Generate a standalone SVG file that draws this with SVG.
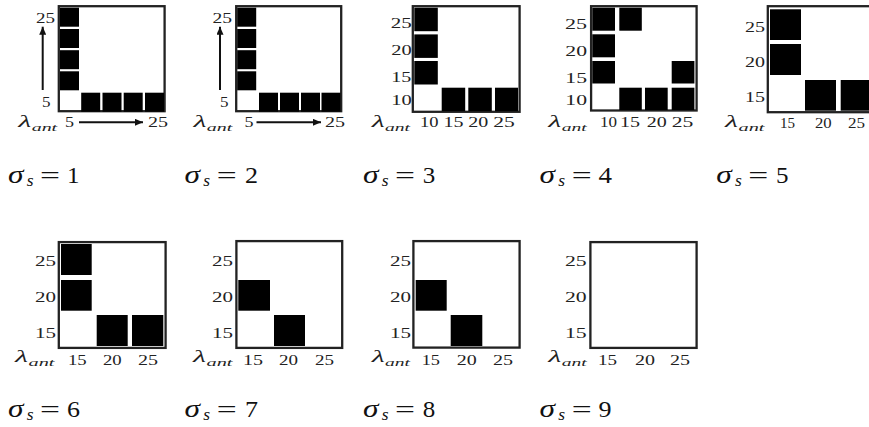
<svg xmlns="http://www.w3.org/2000/svg" width="869" height="427" viewBox="0 0 869 427">
  <defs>
    <style>
      .frame { fill: #ffffff; stroke: #222222; stroke-width: 2.3; }
      .cell { fill: #000000; }
      .tick { font-family: "Liberation Serif", serif; font-size: 15px; fill: #222222; }
      .lam { font-family: "Liberation Serif", serif; font-style: italic; font-size: 16px; fill: #222222; }
      .sub { font-family: "Liberation Serif", serif; font-style: italic; font-size: 11px; fill: #222222; }
      .sig { font-family: "Liberation Serif", serif; font-style: italic; font-size: 26px; fill: #111111; }
      .sigsub { font-family: "Liberation Serif", serif; font-style: italic; font-size: 16px; fill: #111111; }
      .eq { font-family: "Liberation Serif", serif; font-size: 23px; fill: #111111; }
      .axis { stroke: #111111; stroke-width: 2; fill: none; marker-end: url(#head); }
    </style>
    <marker id="head" markerUnits="userSpaceOnUse" markerWidth="8" markerHeight="7" refX="8" refY="3.5" orient="auto">
      <path d="M0,0 L8,3.5 L0,7 z" fill="#111111"/>
    </marker>
  </defs>

  <rect width="869" height="427" fill="#ffffff"/>

  <!-- sigma_s = 1 : 5x5 grid -->
  <g id="panel-s1">
    <rect class="frame" x="58.8" y="6.2" width="105.8" height="105"/>
    <rect class="cell" x="60" y="7.7" width="19" height="19"/>
    <rect class="cell" x="60" y="29" width="19" height="19"/>
    <rect class="cell" x="60" y="50.2" width="19" height="19"/>
    <rect class="cell" x="60" y="71.3" width="19" height="19"/>
    <rect class="cell" x="81.2" y="92.7" width="19" height="19"/>
    <rect class="cell" x="102.5" y="92.7" width="19" height="19"/>
    <rect class="cell" x="123.7" y="92.7" width="19" height="19"/>
    <rect class="cell" x="145" y="92.7" width="19" height="19"/>
    <text class="tick" x="36" y="23" textLength="19" lengthAdjust="spacingAndGlyphs">25</text>
    <text class="tick" x="42" y="107" textLength="8.5" lengthAdjust="spacingAndGlyphs">5</text>
    <text class="lam" x="18.3" y="127" textLength="13" lengthAdjust="spacingAndGlyphs">λ</text>
    <text class="sub" x="31.7" y="130.5" textLength="25.5" lengthAdjust="spacingAndGlyphs">ant</text>
    <text class="tick" x="65" y="126.7" textLength="9" lengthAdjust="spacingAndGlyphs">5</text>
    <text class="tick" x="148" y="126.7" textLength="20" lengthAdjust="spacingAndGlyphs">25</text>
  </g>

  <!-- sigma_s = 2 : same pattern as sigma_s = 1 -->
  <g id="panel-s2">
    <rect class="frame" x="236.2" y="6.2" width="105" height="105"/>
    <rect class="cell" x="237.2" y="7.7" width="19" height="19"/>
    <rect class="cell" x="237.2" y="29" width="19" height="19"/>
    <rect class="cell" x="237.2" y="50.2" width="19" height="19"/>
    <rect class="cell" x="237.2" y="71.3" width="19" height="19"/>
    <rect class="cell" x="259" y="92.7" width="19" height="19"/>
    <rect class="cell" x="280" y="92.7" width="19" height="19"/>
    <rect class="cell" x="301" y="92.7" width="19" height="19"/>
    <rect class="cell" x="321.5" y="92.7" width="19" height="19"/>
    <text class="tick" x="212.5" y="23" textLength="19.5" lengthAdjust="spacingAndGlyphs">25</text>
    <text class="tick" x="220" y="107" textLength="8.5" lengthAdjust="spacingAndGlyphs">5</text>
    <text class="lam" x="193.5" y="127" textLength="13" lengthAdjust="spacingAndGlyphs">λ</text>
    <text class="sub" x="206.8" y="130.5" textLength="25.5" lengthAdjust="spacingAndGlyphs">ant</text>
    <text class="tick" x="244.5" y="126.7" textLength="9" lengthAdjust="spacingAndGlyphs">5</text>
    <text class="tick" x="325" y="126.7" textLength="20" lengthAdjust="spacingAndGlyphs">25</text>
  </g>

  <!-- sigma_s = 3 : 4x4 grid -->
  <g id="panel-s3">
    <rect class="frame" x="412.8" y="6.2" width="106.8" height="105.6"/>
    <rect class="cell" x="414.3" y="7.7" width="23.5" height="23.5"/>
    <rect class="cell" x="414.3" y="34.4" width="23.5" height="23.5"/>
    <rect class="cell" x="414.3" y="61" width="23.5" height="23.5"/>
    <rect class="cell" x="441.7" y="87.7" width="23.5" height="23.5"/>
    <rect class="cell" x="468.3" y="87.7" width="23.5" height="23.5"/>
    <rect class="cell" x="495" y="87.7" width="23" height="23.5"/>
    <text class="tick" x="390.7" y="28.3" textLength="21" lengthAdjust="spacingAndGlyphs">25</text>
    <text class="tick" x="391.2" y="55" textLength="20.5" lengthAdjust="spacingAndGlyphs">20</text>
    <text class="tick" x="391.2" y="81.7" textLength="20" lengthAdjust="spacingAndGlyphs">15</text>
    <text class="tick" x="391.2" y="105" textLength="20.5" lengthAdjust="spacingAndGlyphs">10</text>
    <text class="lam" x="371.7" y="127" textLength="13" lengthAdjust="spacingAndGlyphs">λ</text>
    <text class="sub" x="385" y="130.5" textLength="25" lengthAdjust="spacingAndGlyphs">ant</text>
    <text class="tick" x="420" y="127" textLength="18.5" lengthAdjust="spacingAndGlyphs">10</text>
    <text class="tick" x="443.5" y="127" textLength="20" lengthAdjust="spacingAndGlyphs">15</text>
    <text class="tick" x="468.3" y="127" textLength="20" lengthAdjust="spacingAndGlyphs">20</text>
    <text class="tick" x="493.3" y="127" textLength="21.5" lengthAdjust="spacingAndGlyphs">25</text>
  </g>

  <!-- sigma_s = 4 : 4x4 grid -->
  <g id="panel-s4">
    <rect class="frame" x="591.1" y="6.2" width="105.5" height="104.3"/>
    <rect class="cell" x="592.3" y="7.7" width="22.7" height="23"/>
    <rect class="cell" x="619.3" y="7.7" width="22.5" height="23"/>
    <rect class="cell" x="592.3" y="34.3" width="22.7" height="23"/>
    <rect class="cell" x="592.3" y="61" width="22.7" height="22.5"/>
    <rect class="cell" x="671.7" y="61" width="22.7" height="22.5"/>
    <rect class="cell" x="619.3" y="87.7" width="22.5" height="22.4"/>
    <rect class="cell" x="645" y="87.7" width="22.7" height="22.4"/>
    <rect class="cell" x="671.7" y="87.7" width="22.7" height="22.4"/>
    <text class="tick" x="565" y="29.3" textLength="22" lengthAdjust="spacingAndGlyphs">25</text>
    <text class="tick" x="565.3" y="56" textLength="21.7" lengthAdjust="spacingAndGlyphs">20</text>
    <text class="tick" x="565.3" y="82.7" textLength="21.7" lengthAdjust="spacingAndGlyphs">15</text>
    <text class="tick" x="565.3" y="105" textLength="21.7" lengthAdjust="spacingAndGlyphs">10</text>
    <text class="lam" x="548.3" y="127" textLength="13" lengthAdjust="spacingAndGlyphs">λ</text>
    <text class="sub" x="561.7" y="130.5" textLength="25" lengthAdjust="spacingAndGlyphs">ant</text>
    <text class="tick" x="600" y="127" textLength="17" lengthAdjust="spacingAndGlyphs">10</text>
    <text class="tick" x="620" y="127" textLength="20" lengthAdjust="spacingAndGlyphs">15</text>
    <text class="tick" x="646.7" y="127" textLength="20" lengthAdjust="spacingAndGlyphs">20</text>
    <text class="tick" x="671.7" y="127" textLength="21.6" lengthAdjust="spacingAndGlyphs">25</text>
  </g>

  <!-- sigma_s = 5 : 3x3 grid, runs past the right edge -->
  <g id="panel-s5">
    <rect class="frame" x="767.8" y="6.2" width="106" height="106"/>
    <rect class="cell" x="770" y="9.3" width="31" height="30.7"/>
    <rect class="cell" x="770" y="44" width="31" height="31"/>
    <rect class="cell" x="805" y="80" width="31" height="30.7"/>
    <rect class="cell" x="840.7" y="80" width="31" height="30.7"/>
    <text class="tick" x="745" y="31.7" textLength="20" lengthAdjust="spacingAndGlyphs">25</text>
    <text class="tick" x="745" y="66.7" textLength="20" lengthAdjust="spacingAndGlyphs">20</text>
    <text class="tick" x="745" y="101.7" textLength="20" lengthAdjust="spacingAndGlyphs">15</text>
    <text class="lam" x="725" y="127" textLength="13" lengthAdjust="spacingAndGlyphs">λ</text>
    <text class="sub" x="738.5" y="130.5" textLength="26" lengthAdjust="spacingAndGlyphs">ant</text>
    <text class="tick" x="780" y="128.3" textLength="15" lengthAdjust="spacingAndGlyphs">15</text>
    <text class="tick" x="815" y="128.3" textLength="16.7" lengthAdjust="spacingAndGlyphs">20</text>
    <text class="tick" x="848" y="128.3" textLength="17" lengthAdjust="spacingAndGlyphs">25</text>
  </g>

  <!-- sigma_s = 6 : 3x3 grid -->
  <g id="panel-s6">
    <rect class="frame" x="58.8" y="242.1" width="106.8" height="105.8"/>
    <rect class="cell" x="61" y="244" width="30.7" height="31"/>
    <rect class="cell" x="61" y="280" width="30.7" height="30.7"/>
    <rect class="cell" x="96.7" y="315" width="31" height="31"/>
    <rect class="cell" x="132" y="315" width="31.3" height="31"/>
    <text class="tick" x="35" y="266" textLength="21" lengthAdjust="spacingAndGlyphs">25</text>
    <text class="tick" x="35" y="301.7" textLength="21" lengthAdjust="spacingAndGlyphs">20</text>
    <text class="tick" x="35" y="338.3" textLength="21" lengthAdjust="spacingAndGlyphs">15</text>
    <text class="lam" x="15" y="362" textLength="13" lengthAdjust="spacingAndGlyphs">λ</text>
    <text class="sub" x="28.5" y="365.5" textLength="26" lengthAdjust="spacingAndGlyphs">ant</text>
    <text class="tick" x="68" y="365" textLength="18.7" lengthAdjust="spacingAndGlyphs">15</text>
    <text class="tick" x="103" y="365" textLength="18.7" lengthAdjust="spacingAndGlyphs">20</text>
    <text class="tick" x="138" y="365" textLength="20" lengthAdjust="spacingAndGlyphs">25</text>
  </g>

  <!-- sigma_s = 7 : 3x3 grid -->
  <g id="panel-s7">
    <rect class="frame" x="236.4" y="241.1" width="105.8" height="106.8"/>
    <rect class="cell" x="238.3" y="280" width="31.7" height="30.7"/>
    <rect class="cell" x="274" y="315" width="31" height="31"/>
    <text class="tick" x="212" y="266" textLength="21" lengthAdjust="spacingAndGlyphs">25</text>
    <text class="tick" x="212" y="301.7" textLength="21" lengthAdjust="spacingAndGlyphs">20</text>
    <text class="tick" x="212" y="338.3" textLength="21" lengthAdjust="spacingAndGlyphs">15</text>
    <text class="lam" x="193" y="362" textLength="13" lengthAdjust="spacingAndGlyphs">λ</text>
    <text class="sub" x="206.5" y="365.5" textLength="26" lengthAdjust="spacingAndGlyphs">ant</text>
    <text class="tick" x="243" y="365" textLength="20" lengthAdjust="spacingAndGlyphs">15</text>
    <text class="tick" x="279" y="365" textLength="19" lengthAdjust="spacingAndGlyphs">20</text>
    <text class="tick" x="315" y="365" textLength="19" lengthAdjust="spacingAndGlyphs">25</text>
  </g>

  <!-- sigma_s = 8 : 3x3 grid -->
  <g id="panel-s8">
    <rect class="frame" x="413.4" y="241.1" width="106.2" height="106.5"/>
    <rect class="cell" x="415.7" y="280" width="31" height="30.7"/>
    <rect class="cell" x="450.7" y="315" width="31.6" height="31"/>
    <text class="tick" x="390" y="266" textLength="21" lengthAdjust="spacingAndGlyphs">25</text>
    <text class="tick" x="390" y="301.7" textLength="21" lengthAdjust="spacingAndGlyphs">20</text>
    <text class="tick" x="390" y="338.3" textLength="21" lengthAdjust="spacingAndGlyphs">15</text>
    <text class="lam" x="371.7" y="362" textLength="13" lengthAdjust="spacingAndGlyphs">λ</text>
    <text class="sub" x="385" y="365.5" textLength="25" lengthAdjust="spacingAndGlyphs">ant</text>
    <text class="tick" x="421.7" y="365" textLength="18.3" lengthAdjust="spacingAndGlyphs">15</text>
    <text class="tick" x="456.7" y="365" textLength="20" lengthAdjust="spacingAndGlyphs">20</text>
    <text class="tick" x="493" y="365" textLength="20" lengthAdjust="spacingAndGlyphs">25</text>
  </g>

  <!-- sigma_s = 9 : empty 3x3 grid -->
  <g id="panel-s9">
    <rect class="frame" x="590.4" y="242.1" width="106.2" height="105.8"/>
    <text class="tick" x="565" y="266" textLength="21.7" lengthAdjust="spacingAndGlyphs">25</text>
    <text class="tick" x="565" y="301.7" textLength="21.7" lengthAdjust="spacingAndGlyphs">20</text>
    <text class="tick" x="565" y="338.3" textLength="21.7" lengthAdjust="spacingAndGlyphs">15</text>
    <text class="lam" x="548.3" y="362" textLength="13" lengthAdjust="spacingAndGlyphs">λ</text>
    <text class="sub" x="561.7" y="365.5" textLength="25" lengthAdjust="spacingAndGlyphs">ant</text>
    <text class="tick" x="598" y="365" textLength="19" lengthAdjust="spacingAndGlyphs">15</text>
    <text class="tick" x="635" y="365" textLength="20" lengthAdjust="spacingAndGlyphs">20</text>
    <text class="tick" x="670" y="365" textLength="20" lengthAdjust="spacingAndGlyphs">25</text>
  </g>

  <!-- axis direction arrows of the first two grids -->
  <g id="connectors">
    <line class="axis" x1="42.7" y1="90" x2="42.7" y2="26.7"/>
    <line class="axis" x1="79" y1="122.3" x2="143" y2="122.3"/>
    <line class="axis" x1="220" y1="90" x2="220" y2="26.7"/>
    <line class="axis" x1="256.5" y1="122.3" x2="321" y2="122.3"/>
  </g>

  <!-- captions -->
  <g id="captions">
    <g id="cap-1">
      <text class="sig" x="8" y="183" textLength="15.5" lengthAdjust="spacingAndGlyphs">σ</text>
      <text class="sigsub" x="26.7" y="186" textLength="6.8" lengthAdjust="spacingAndGlyphs">s</text>
      <text class="eq" x="40" y="183" textLength="20" lengthAdjust="spacingAndGlyphs">=</text>
      <text class="eq" x="67" y="183" textLength="12.5" lengthAdjust="spacingAndGlyphs">1</text>
    </g>
    <g id="cap-2">
      <text class="sig" x="184.6" y="183" textLength="15.5" lengthAdjust="spacingAndGlyphs">σ</text>
      <text class="sigsub" x="203.3" y="186" textLength="6.8" lengthAdjust="spacingAndGlyphs">s</text>
      <text class="eq" x="216.7" y="183" textLength="20" lengthAdjust="spacingAndGlyphs">=</text>
      <text class="eq" x="245" y="183" textLength="13" lengthAdjust="spacingAndGlyphs">2</text>
    </g>
    <g id="cap-3">
      <text class="sig" x="363" y="183" textLength="15.5" lengthAdjust="spacingAndGlyphs">σ</text>
      <text class="sigsub" x="381.7" y="186" textLength="6.8" lengthAdjust="spacingAndGlyphs">s</text>
      <text class="eq" x="395" y="183" textLength="20" lengthAdjust="spacingAndGlyphs">=</text>
      <text class="eq" x="422.7" y="183" textLength="12.5" lengthAdjust="spacingAndGlyphs">3</text>
    </g>
    <g id="cap-4">
      <text class="sig" x="539.6" y="183" textLength="15.5" lengthAdjust="spacingAndGlyphs">σ</text>
      <text class="sigsub" x="558.3" y="186" textLength="6.8" lengthAdjust="spacingAndGlyphs">s</text>
      <text class="eq" x="571.7" y="183" textLength="20" lengthAdjust="spacingAndGlyphs">=</text>
      <text class="eq" x="598.5" y="183" textLength="13.5" lengthAdjust="spacingAndGlyphs">4</text>
    </g>
    <g id="cap-5">
      <text class="sig" x="716.3" y="183" textLength="15.5" lengthAdjust="spacingAndGlyphs">σ</text>
      <text class="sigsub" x="735" y="186" textLength="6.8" lengthAdjust="spacingAndGlyphs">s</text>
      <text class="eq" x="748.3" y="183" textLength="20" lengthAdjust="spacingAndGlyphs">=</text>
      <text class="eq" x="776" y="183" textLength="12.5" lengthAdjust="spacingAndGlyphs">5</text>
    </g>
    <g id="cap-6">
      <text class="sig" x="8" y="416.5" textLength="15.5" lengthAdjust="spacingAndGlyphs">σ</text>
      <text class="sigsub" x="26.7" y="419.5" textLength="6.8" lengthAdjust="spacingAndGlyphs">s</text>
      <text class="eq" x="40" y="416.5" textLength="20" lengthAdjust="spacingAndGlyphs">=</text>
      <text class="eq" x="67" y="416.5" textLength="13" lengthAdjust="spacingAndGlyphs">6</text>
    </g>
    <g id="cap-7">
      <text class="sig" x="184.6" y="416.5" textLength="15.5" lengthAdjust="spacingAndGlyphs">σ</text>
      <text class="sigsub" x="203.3" y="419.5" textLength="6.8" lengthAdjust="spacingAndGlyphs">s</text>
      <text class="eq" x="216.7" y="416.5" textLength="20" lengthAdjust="spacingAndGlyphs">=</text>
      <text class="eq" x="245" y="416.5" textLength="13" lengthAdjust="spacingAndGlyphs">7</text>
    </g>
    <g id="cap-8">
      <text class="sig" x="363" y="416.5" textLength="15.5" lengthAdjust="spacingAndGlyphs">σ</text>
      <text class="sigsub" x="381.7" y="419.5" textLength="6.8" lengthAdjust="spacingAndGlyphs">s</text>
      <text class="eq" x="395" y="416.5" textLength="20" lengthAdjust="spacingAndGlyphs">=</text>
      <text class="eq" x="422.7" y="416.5" textLength="12.5" lengthAdjust="spacingAndGlyphs">8</text>
    </g>
    <g id="cap-9">
      <text class="sig" x="539.6" y="416.5" textLength="15.5" lengthAdjust="spacingAndGlyphs">σ</text>
      <text class="sigsub" x="558.3" y="419.5" textLength="6.8" lengthAdjust="spacingAndGlyphs">s</text>
      <text class="eq" x="571.7" y="416.5" textLength="20" lengthAdjust="spacingAndGlyphs">=</text>
      <text class="eq" x="598.5" y="416.5" textLength="13" lengthAdjust="spacingAndGlyphs">9</text>
    </g>
  </g>
</svg>
